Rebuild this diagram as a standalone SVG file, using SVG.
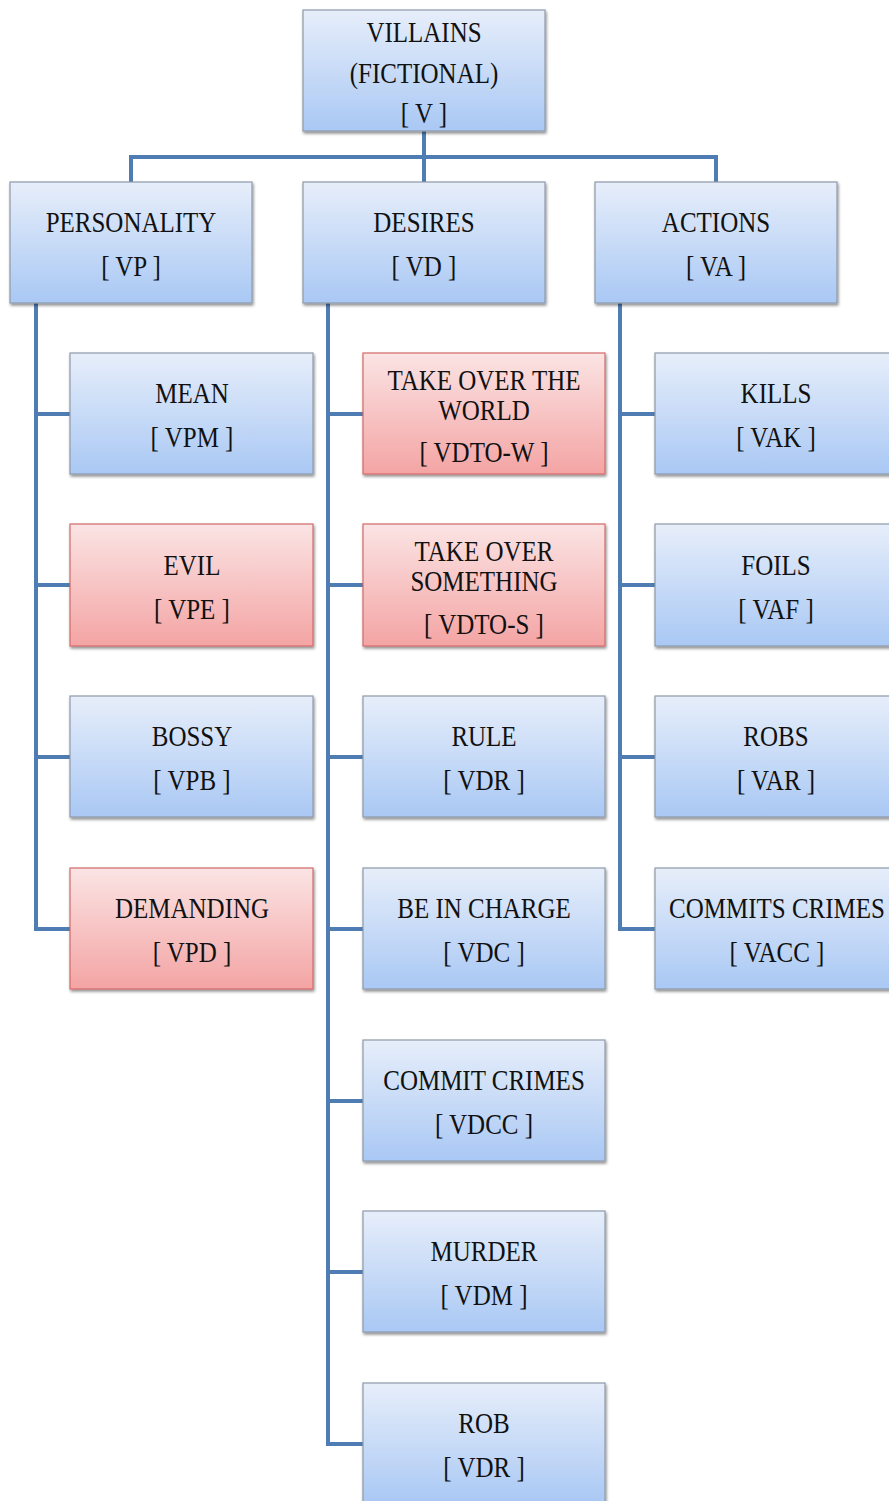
<svg xmlns="http://www.w3.org/2000/svg" width="889" height="1501" viewBox="0 0 889 1501">
<defs>
<linearGradient id="gb" x1="0" y1="0" x2="0" y2="1">
<stop offset="0" stop-color="#e7eefa"/>
<stop offset="1" stop-color="#a9c8f4"/>
</linearGradient>
<linearGradient id="gr" x1="0" y1="0" x2="0" y2="1">
<stop offset="0" stop-color="#fbe4e4"/>
<stop offset="1" stop-color="#f4a4a4"/>
</linearGradient>
<filter id="sh" x="-10%" y="-10%" width="120%" height="120%">
<feGaussianBlur in="SourceAlpha" stdDeviation="1.5"/>
<feOffset dx="1" dy="2" result="o"/>
<feComponentTransfer><feFuncA type="linear" slope="0.45"/></feComponentTransfer>
<feMerge><feMergeNode/><feMergeNode in="SourceGraphic"/></feMerge>
</filter>
</defs>
<style>
.b{fill:url(#gb);stroke:#8e9aab;stroke-width:1.2;filter:url(#sh)}
.r{fill:url(#gr);stroke:#d46a6a;stroke-width:1.2;filter:url(#sh)}
.c{fill:none;stroke:#4f7db3;stroke-width:4}
text{font-family:"Liberation Serif","DejaVu Serif",serif;font-size:25px;fill:#111;text-anchor:middle}
</style>
<g id="connectors">
<path class="c" d="M424 131V182M131 182V157H716V182"/>
<path class="c" d="M36 303V929H70M36 414H70M36 585H70M36 757H70"/>
<path class="c" d="M328 303V1444H363M328 414H363M328 585H363M328 757H363M328 929H363M328 1101H363M328 1272H363"/>
<path class="c" d="M620 303V929H655M620 414H655M620 585H655M620 757H655"/>
</g>
<g id="n-v"><rect class="b" x="303" y="10" width="242" height="121"/>
<text transform="translate(424,42) scale(1,1.18)">VILLAINS</text>
<text transform="translate(424,83) scale(1,1.18)">(FICTIONAL)</text>
<text transform="translate(424,123) scale(1,1.18)">[ V ]</text></g>
<g id="n-vp"><rect class="b" x="10" y="182" width="242" height="121"/>
<text transform="translate(131,232) scale(1,1.18)">PERSONALITY</text>
<text transform="translate(131,276) scale(1,1.18)">[ VP ]</text></g>
<g id="n-vd"><rect class="b" x="303" y="182" width="242" height="121"/>
<text transform="translate(424,232) scale(1,1.18)">DESIRES</text>
<text transform="translate(424,276) scale(1,1.18)">[ VD ]</text></g>
<g id="n-va"><rect class="b" x="595" y="182" width="242" height="121"/>
<text transform="translate(716,232) scale(1,1.18)">ACTIONS</text>
<text transform="translate(716,276) scale(1,1.18)">[ VA ]</text></g>
<g id="n-vpm"><rect class="b" x="70" y="353" width="243" height="121"/>
<text transform="translate(192,403) scale(1,1.18)">MEAN</text>
<text transform="translate(192,447) scale(1,1.18)">[ VPM ]</text></g>
<g id="n-vpe"><rect class="r" x="70" y="524" width="243" height="122"/>
<text transform="translate(192,575) scale(1,1.18)">EVIL</text>
<text transform="translate(192,619) scale(1,1.18)">[ VPE ]</text></g>
<g id="n-vpb"><rect class="b" x="70" y="696" width="243" height="121"/>
<text transform="translate(192,746) scale(1,1.18)">BOSSY</text>
<text transform="translate(192,790) scale(1,1.18)">[ VPB ]</text></g>
<g id="n-vpd"><rect class="r" x="70" y="868" width="243" height="121"/>
<text transform="translate(192,918) scale(1,1.18)">DEMANDING</text>
<text transform="translate(192,962) scale(1,1.18)">[ VPD ]</text></g>
<g id="n-vdtow"><rect class="r" x="363" y="353" width="242" height="121"/>
<text transform="translate(484,390) scale(1,1.18)">TAKE OVER THE</text>
<text transform="translate(484,420) scale(1,1.18)">WORLD</text>
<text transform="translate(484,462) scale(1,1.18)">[ VDTO-W ]</text></g>
<g id="n-vdtos"><rect class="r" x="363" y="524" width="242" height="122"/>
<text transform="translate(484,561) scale(1,1.18)">TAKE OVER</text>
<text transform="translate(484,591) scale(1,1.18)">SOMETHING</text>
<text transform="translate(484,634) scale(1,1.18)">[ VDTO-S ]</text></g>
<g id="n-vdr"><rect class="b" x="363" y="696" width="242" height="121"/>
<text transform="translate(484,746) scale(1,1.18)">RULE</text>
<text transform="translate(484,790) scale(1,1.18)">[ VDR ]</text></g>
<g id="n-vdc"><rect class="b" x="363" y="868" width="242" height="121"/>
<text transform="translate(484,918) scale(1,1.18)">BE IN CHARGE</text>
<text transform="translate(484,962) scale(1,1.18)">[ VDC ]</text></g>
<g id="n-vdcc"><rect class="b" x="363" y="1040" width="242" height="121"/>
<text transform="translate(484,1090) scale(1,1.18)">COMMIT CRIMES</text>
<text transform="translate(484,1134) scale(1,1.18)">[ VDCC ]</text></g>
<g id="n-vdm"><rect class="b" x="363" y="1211" width="242" height="121"/>
<text transform="translate(484,1261) scale(1,1.18)">MURDER</text>
<text transform="translate(484,1305) scale(1,1.18)">[ VDM ]</text></g>
<g id="n-vdr2"><rect class="b" x="363" y="1383" width="242" height="121"/>
<text transform="translate(484,1433) scale(1,1.18)">ROB</text>
<text transform="translate(484,1477) scale(1,1.18)">[ VDR ]</text></g>
<g id="n-vak"><rect class="b" x="655" y="353" width="242" height="121"/>
<text transform="translate(776,403) scale(1,1.18)">KILLS</text>
<text transform="translate(776,447) scale(1,1.18)">[ VAK ]</text></g>
<g id="n-vaf"><rect class="b" x="655" y="524" width="242" height="122"/>
<text transform="translate(776,575) scale(1,1.18)">FOILS</text>
<text transform="translate(776,619) scale(1,1.18)">[ VAF ]</text></g>
<g id="n-var"><rect class="b" x="655" y="696" width="242" height="121"/>
<text transform="translate(776,746) scale(1,1.18)">ROBS</text>
<text transform="translate(776,790) scale(1,1.18)">[ VAR ]</text></g>
<g id="n-vacc"><rect class="b" x="655" y="868" width="242" height="121"/>
<text transform="translate(777,918) scale(1,1.18)">COMMITS CRIMES</text>
<text transform="translate(777,962) scale(1,1.18)">[ VACC ]</text></g>
</svg>
